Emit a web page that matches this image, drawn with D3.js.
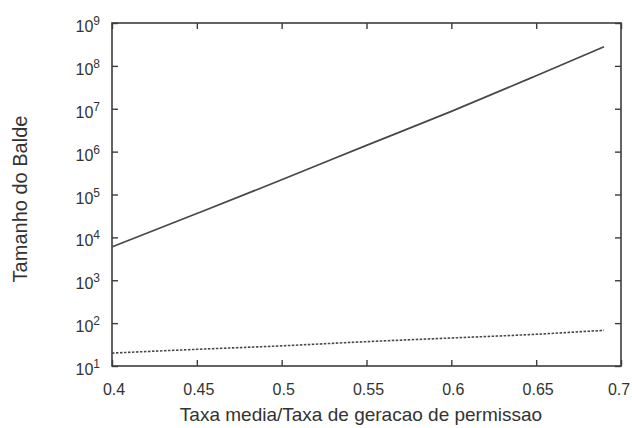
<!DOCTYPE html>
<html>
<head>
<meta charset="utf-8">
<script src="https://cdn.jsdelivr.net/npm/d3@7"></script>
<style>
  html, body { margin: 0; padding: 0; background: #fff; }
  svg { display: block; }
  text { font-family: "Liberation Sans", Arial, Helvetica, sans-serif; fill: #333; }
</style>
</head>
<body>
<svg id="chart" width="632" height="428"></svg>
<script>
// ---- data ----
const xValues = [0.40, 0.45, 0.50, 0.55, 0.60, 0.65, 0.69];
const solidSeries = [6.0e3, 3.6e4, 2.2e5, 1.4e6, 8.7e6, 5.9e7, 2.8e8];
const dottedSeries = [20, 24.5, 29.5, 37, 45, 55, 68];
const xTickValues = [0.40, 0.45, 0.50, 0.55, 0.60, 0.65, 0.70];
const xTickLabels = ["0.4", "0.45", "0.5", "0.55", "0.6", "0.65", "0.7"];
const yTickExponents = [1, 2, 3, 4, 5, 6, 7, 8, 9];
const xTitle = "Taxa media/Taxa de geracao de permissao";
const yTitle = "Tamanho do Balde";

// ---- layout ----
const mLeft = 112, mRight = 621, mTop = 23, mBottom = 366;
const svg = d3.select("#chart");
const ink = "#3c3c3c";

const x = d3.scaleLinear().domain([0.4, 0.7]).range([mLeft, mRight]);
const y = d3.scaleLog().domain([10, 1e9]).range([mBottom, mTop]);
const yTickValues = yTickExponents.map(e => Math.pow(10, e));

// axes (ticks inward, on all four sides)
function styleAxis(g) {
  g.select(".domain").remove();
  g.selectAll(".tick line").attr("stroke", ink).attr("stroke-width", 1.4);
}
svg.append("g").attr("transform", `translate(0,${mBottom})`)
  .call(d3.axisBottom(x).tickValues(xTickValues).tickSize(-6).tickFormat(""))
  .call(styleAxis);
svg.append("g").attr("transform", `translate(0,${mTop})`)
  .call(d3.axisTop(x).tickValues(xTickValues).tickSize(-6).tickFormat(""))
  .call(styleAxis);
svg.append("g").attr("transform", `translate(${mLeft},0)`)
  .call(d3.axisLeft(y).tickValues(yTickValues).tickSize(-6).tickFormat(""))
  .call(styleAxis);
svg.append("g").attr("transform", `translate(${mRight},0)`)
  .call(d3.axisRight(y).tickValues(yTickValues).tickSize(-6).tickFormat(""))
  .call(styleAxis);

// frame
svg.append("rect")
  .attr("x", mLeft).attr("y", mTop)
  .attr("width", mRight - mLeft).attr("height", mBottom - mTop)
  .attr("fill", "none").attr("stroke", ink).attr("stroke-width", 1.6);

// x tick labels
svg.append("g").selectAll("text").data(xTickValues).join("text")
  .attr("x", (d, i) => i === xTickValues.length - 1 ? x(d) - 2 : x(d) + 2)
  .attr("y", mBottom + 29)
  .attr("text-anchor", "middle")
  .attr("font-size", 16)
  .text((d, i) => xTickLabels[i]);

// y tick labels with superscripts
const yl = svg.append("g").selectAll("text").data(yTickExponents).join("text")
  .attr("x", 100)
  .attr("y", d => y(Math.pow(10, d)) + 9)
  .attr("text-anchor", "end")
  .attr("font-size", 16);
yl.append("tspan").text("10");
yl.append("tspan").attr("font-size", 12).attr("dy", -7).text(d => d);

// axis titles
svg.append("text")
  .attr("x", 361).attr("y", 421)
  .attr("text-anchor", "middle")
  .attr("font-size", 19)
  .text(xTitle);
svg.append("text")
  .attr("transform", `translate(27,199) rotate(-90)`)
  .attr("text-anchor", "middle")
  .attr("font-size", 20)
  .text(yTitle);

// series
const line = d3.line().x((d, i) => x(xValues[i])).y(d => y(d)).curve(d3.curveMonotoneX);
svg.append("path").datum(solidSeries)
  .attr("d", line).attr("fill", "none")
  .attr("stroke", "#484848").attr("stroke-width", 1.7);
svg.append("path").datum(dottedSeries)
  .attr("d", line).attr("fill", "none")
  .attr("stroke", "#484848").attr("stroke-width", 1.6)
  .attr("stroke-dasharray", "2.5,1.5");
</script>
</body>
</html>
